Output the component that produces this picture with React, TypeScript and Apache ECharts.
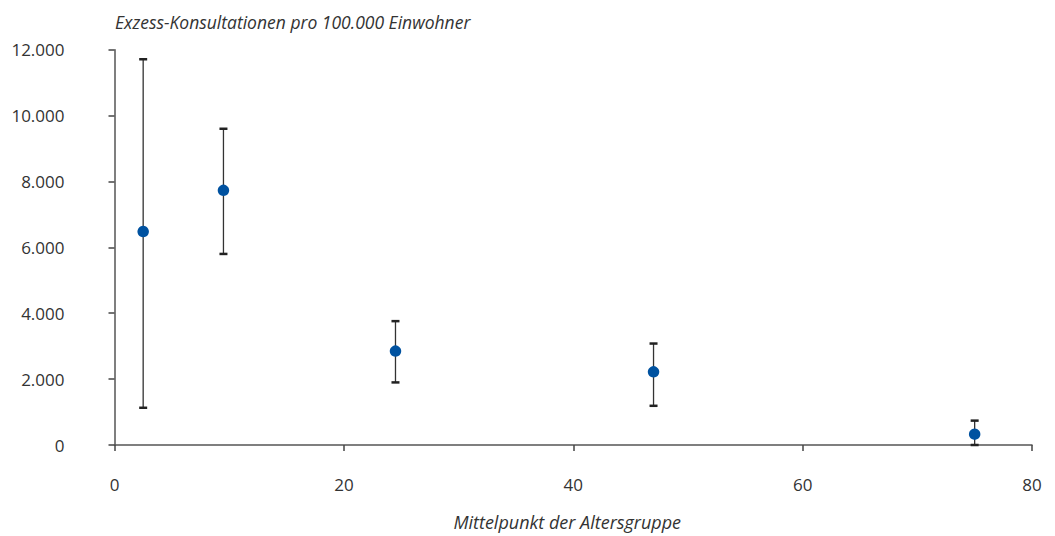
import React, { useEffect, useRef } from "react";
import * as echarts from "echarts";

const xValues = [2.5, 9.5, 24.5, 47, 75];
const yValues = [6480, 7730, 2850, 2220, 330];
const lowerValues = [1130, 5800, 1900, 1190, 0];
const upperValues = [11710, 9600, 3760, 3080, 740];

const yTicks = [0, 2000, 4000, 6000, 8000, 10000, 12000];
const xTicks = [0, 20, 40, 60, 80];

const titleText = "Exzess-Konsultationen pro 100.000 Einwohner";
const xAxisName = "Mittelpunkt der Altersgruppe";

const FONT = "'Open Sans', 'Noto Sans', sans-serif";

function fmt(v: number): string {
  return String(v).replace(/\B(?=(\d{3})+(?!\d))/g, ".");
}

export default function App() {
  const ref = useRef<HTMLDivElement>(null);
  useEffect(() => {
    document.body.style.margin = "0";
    if (!ref.current) return;
    const chart = echarts.init(ref.current, null, { renderer: "svg" });
    const errData = xValues.map((x, i) => [x, lowerValues[i], upperValues[i]]);
    const pts = xValues.map((x, i) => [x, yValues[i]]);
    chart.setOption({
      animation: false,
      title: {
        text: titleText,
        left: 110,
        top: 8,
        textStyle: {
          fontFamily: FONT,
          fontStyle: "italic",
          fontWeight: "normal",
          fontSize: 17.5,
          color: "#333",
        },
      },
      grid: { left: 114.5, right: 23, top: 49.7, bottom: 89.3 },
      xAxis: {
        type: "value",
        min: xTicks[0],
        max: xTicks[xTicks.length - 1],
        interval: 20,
        name: xAxisName,
        nameLocation: "middle",
        nameGap: 68,
        nameTextStyle: {
          fontFamily: FONT,
          fontStyle: "italic",
          fontSize: 18,
          color: "#333",
          padding: [0, 12, 0, 0],
        },
        axisLine: { lineStyle: { color: "#555", width: 1.5 } },
        axisTick: { show: true, length: 6, lineStyle: { color: "#444", width: 1.5 } },
        axisLabel: {
          margin: 31,
          fontFamily: FONT,
          fontSize: 17,
          color: "#333",
        },
        splitLine: { show: false },
      },
      yAxis: {
        type: "value",
        min: yTicks[0],
        max: yTicks[yTicks.length - 1],
        interval: 2000,
        axisLine: { show: true, lineStyle: { color: "#555", width: 1.5 } },
        axisTick: { show: true, length: 6, lineStyle: { color: "#444", width: 1.5 } },
        axisLabel: {
          margin: 50,
          fontFamily: FONT,
          fontSize: 17,
          color: "#333",
          padding: [8, 0, 0, 0],
          formatter: (v: number) => fmt(v),
        },
        splitLine: { show: false },
      },
      series: [
        {
          type: "custom",
          data: errData,
          encode: { x: 0, y: [1, 2] },
          z: 1,
          renderItem: (params: any, api: any) => {
            const x = api.value(0);
            const lo = api.coord([x, api.value(1)]);
            const hi = api.coord([x, api.value(2)]);
            const w = 4;
            const style = { stroke: "#333", lineWidth: 1.3 };
            const capStyle = { stroke: "#222", lineWidth: 2.5 };
            return {
              type: "group",
              children: [
                { type: "line", shape: { x1: lo[0], y1: lo[1], x2: hi[0], y2: hi[1] }, style },
                { type: "line", shape: { x1: hi[0] - w, y1: hi[1], x2: hi[0] + w, y2: hi[1] }, style: capStyle },
                { type: "line", shape: { x1: lo[0] - w, y1: lo[1], x2: lo[0] + w, y2: lo[1] }, style: capStyle },
              ],
            };
          },
        },
        {
          type: "scatter",
          data: pts,
          symbol: "circle",
          symbolSize: 11.5,
          z: 3,
          itemStyle: { color: "#0052a0", opacity: 1 },
        },
      ],
    });
    return () => chart.dispose();
  }, []);
  return <div ref={ref} style={{ width: 1055, height: 536 }} />;
}
